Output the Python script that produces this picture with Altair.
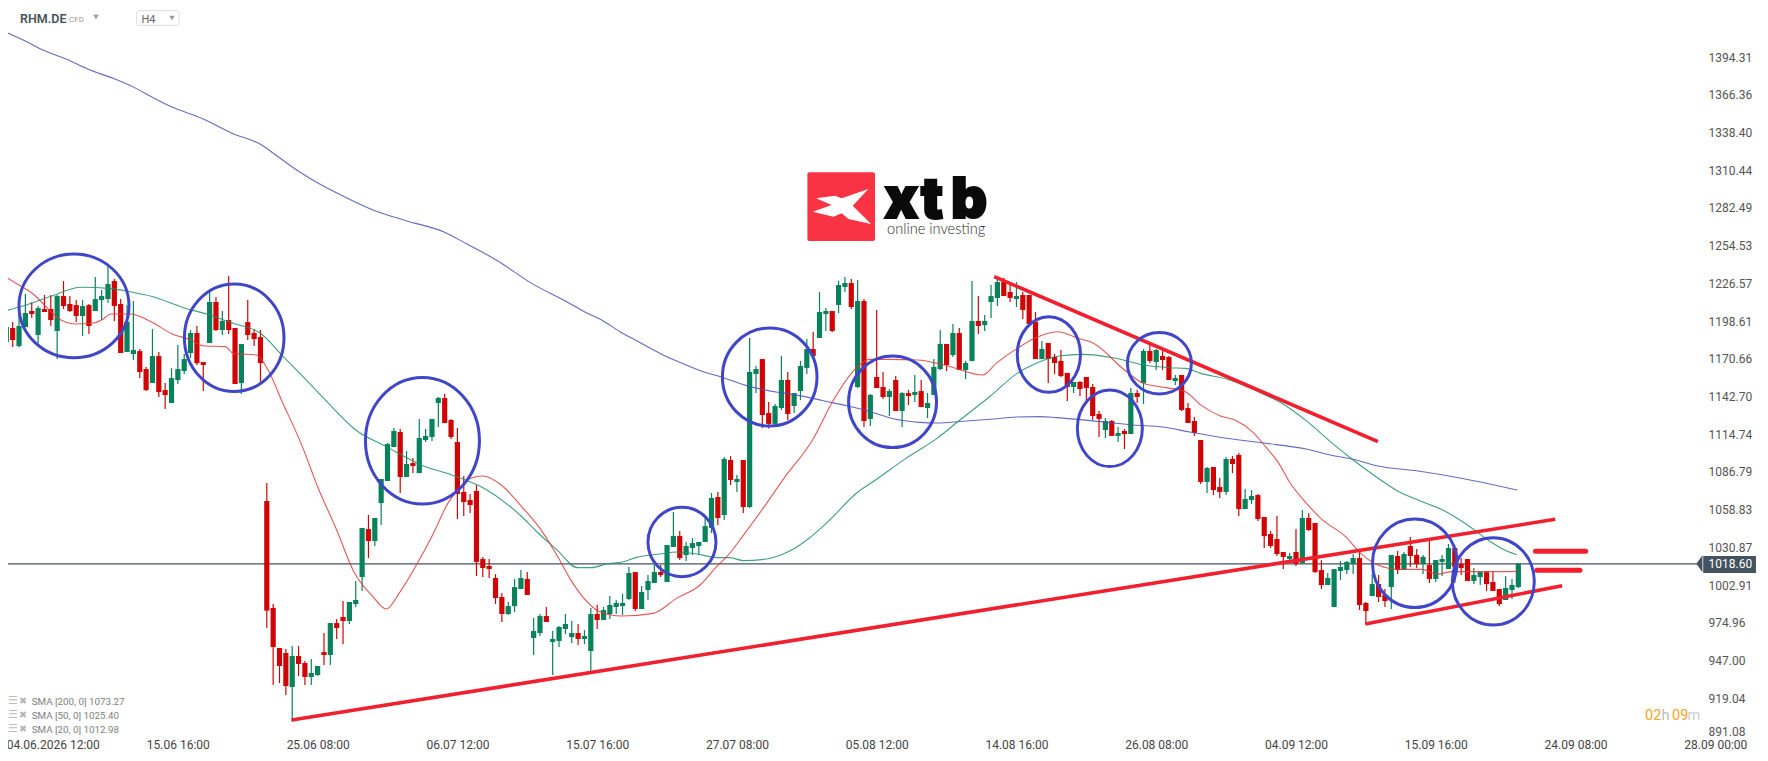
import altair as alt
import pandas as pd

# ---- candles ----
opens = [1183.0,1193.4,1180.0,1194.1,1206,1188.2,1207.5,1207.5,1191.2,1217.1,1211.2,1210.4,1202.3,1210.4,1206,1214.1,1214.9,1228.2,1211.2,1175.6,
1174.1,1176.3,1163,1152.6,1172.6,1147.4,1137.8,1154.8,1161.5,1174.9,1189.7,1168.2,1182.3,1212.7,1191.9,1199.3,1193.4,1152.6,1197.8,1189.7,
1186.7,1065.2,985.9,956.2,952.5,927.3,950.3,945.1,934.7,936.2,953.2,951,974.7,979.2,976.2,988.8,1008.8,1044.4,1035.5,1063.7,
1080,1105.2,1116.3,1083,1093.3,1085.9,1110.4,1112.6,1137.8,1141.5,1125.2,1108.9,1071.9,1065.9,1072.6,1022.2,1017,1008.1,994,981.4,
987.3,999.9,1007.4,963.6,967.3,979.9,960.7,961.4,970.3,964.3,967.3,962.9,954,981.4,977,981.4,986.6,987.3,992.5,1012.5,
985.1,999.2,1004.4,1012.5,1005.1,1031.1,1039.2,1025.1,1030.3,1031.8,1034.8,1045.2,1068.1,1054.8,1095.6,1079.3,1095.6,1060.7,1159.3,1170.4,
1130.4,1122.3,1134.1,1154.9,1135.6,1146.7,1163.8,1177.9,1186,1203.8,1206,1210.5,1223.8,1226.8,1149.7,1213.4,1126,1157.1,1149.7,1142.3,
1154.9,1131.9,1145.2,1143.8,1146.7,1134.1,1143.8,1163,1181.6,1173.4,1189.7,1162.3,1169,1198.6,1195.6,1212.7,1215.7,1227.5,1220.1,1214.9,
1217.9,1217.9,1198.1,1170.4,1182.3,1171.9,1169,1160.1,1149.7,1153.4,1157.1,1149.7,1129.7,1117.8,1124.5,1113.4,1117.1,1114.8,1145.2,1152.6,
1176.4,1168.2,1172.7,1171.9,1154.1,1158.6,1134.1,1124.5,1110.4,1079.3,1090.4,1075.6,1071.9,1096.3,1099.3,1059.2,1065.9,1069.6,1053.3,1040.7,
1037,1027.4,1022.2,1027.4,1019,1052.6,1048.9,1014,1002.9,986.6,1013.3,1014,1018.5,1022.9,989.6,994.7,1003.6,995.5,1001.4,1024.4,
1014,1031.8,1025.2,1018.5,1017.7,1007.4,1020,1014.8,1030.3,1018.5,1022.2,1005.9,1008.8,1012.5,1005.1,999.9,991.8,999.2,1001.4]
highs = [1194.1,1197.8,1203.8,1218.6,1212.7,1209.7,1217.9,1217.9,1217.9,1228.2,1217.1,1214.1,1214.1,1211.2,1231.2,1221.6,1240.1,1229.7,1214.9,1210.4,
1213.4,1177.8,1164.5,1192.6,1175.6,1152.6,1163.7,1180.8,1174.1,1191.9,1194.9,1168.2,1220.1,1216.4,1206,1232,1193.4,1181.5,1214.1,1192.6,
1191.9,1078.5,988.8,956.2,955.5,957.7,957.7,946.6,948.1,942.9,967.3,974.7,977.7,991.1,990.3,1005.9,1045.2,1054.8,1052.6,1081.5,
1108.2,1119.3,1118.5,1102.2,1097.1,1126,1118.5,1126,1142.3,1144.5,1126,1119.3,1083.7,1070.4,1077,1023.7,1022.2,1011,997,990.3,
1007.4,1014,1012.5,978.4,981.4,986.6,968.8,972.5,981.4,976.2,974,969.5,985.9,988.1,986.6,994.8,991.8,996.3,1016.3,1012.5,
1002.2,1010.3,1017.7,1017.7,1032.6,1057,1042.9,1034.8,1037.7,1034.8,1052.6,1071.1,1071.8,1097.8,1098.5,1084.4,1095.6,1186,1165.3,1170.4,
1138.6,1137.1,1172.7,1160.8,1145.2,1169,1185.3,1190.5,1220.1,1208.2,1206,1228.3,1231.2,1229.7,1229,1214.9,1144.5,1206.8,1160.8,1148.2,
1157.8,1146,1147.5,1158.6,1154.9,1145.2,1170.4,1191.9,1181.6,1196.4,1193.4,1169,1228.3,1217.1,1203,1225.3,1230.5,1230.5,1226,1227.5,
1220.1,1217.9,1205.3,1183.8,1182.3,1174.2,1177.1,1160.1,1153.4,1154.1,1157.1,1151.9,1131.9,1126.7,1125.2,1120,1118.5,1148.9,1147.5,1177.9,
1180.8,1177.9,1176.4,1172.7,1158.6,1158.6,1137.8,1127.4,1110.4,1090.4,1090.4,1082.2,1097.8,1098.5,1100.8,1074.1,1073.3,1070.4,1053.3,1042.9,
1054,1027.4,1026.6,1044.4,1058.5,1056.3,1048.9,1021.4,1011.8,1014.7,1020.7,1020.7,1025.9,1029.6,990.3,1011,1010.3,999.9,1025.2,1028.1,
1027.4,1038.5,1029.6,1025.2,1036.3,1021.4,1025.2,1033.3,1030.3,1022.9,1022.2,1015.5,1013.3,1013.3,1013.3,999.9,1009.6,1007.4,1019.2]
lows = [1176.6,1179.3,1179.1,1194.1,1200.8,1182,1205.3,1194.9,1170.4,1207.5,1205.3,1197.8,1187.5,1188.9,1206,1199.3,1211.9,1198.6,1174.9,1175.6,
1169.7,1156.3,1146.7,1152.6,1142.2,1133.3,1137.8,1151.9,1159.3,1171.2,1166,1146.7,1182.3,1191.2,1188.2,1188.9,1151.9,1144.5,1184.5,1180,
1153.6,971,928.8,930.2,921.4,901.6,935.4,928.8,928.8,935.4,943.6,943.6,962.9,959.2,974,986.6,998.5,1022.9,1031.8,1047.4,
1080,1105.2,1071.1,1083,1085.9,1085.9,1108.9,1109.7,1120,1123,1111.1,1051.8,1054.1,1056.3,1009.6,1008.8,1008.1,988.8,975.5,980.7,
982.9,999.9,995.5,951,965.1,975.5,936.2,957,966.6,959.9,958.4,959.2,939.2,970.3,977,977.7,981.4,980.7,991.8,983.6,
985.1,991.8,1004.4,1008.8,1005.1,1031.1,1021.4,1020.7,1025.1,1025.1,1034.8,1041.5,1047.4,1051.1,1077,1071.8,1056.3,1060,1145.2,1119.3,
1119,1122.3,1132.6,1125.2,1130.4,1140,1159.3,1172.7,1186,1191.2,1190.5,1204.5,1220.1,1207.5,1148.9,1120,1120.8,1148.9,1140.8,1128.2,
1131.9,1120,1136.3,1138.6,1134.8,1126.7,1143.8,1162.3,1161.5,1171.9,1162.3,1155.6,1169,1189,1191.2,1200.8,1209.7,1217.1,1212.7,1209,
1200.1,1196.4,1170.4,1170.4,1152.6,1159.3,1157.1,1139.3,1145.2,1143,1140,1125.2,1112.6,1111.9,1113.4,1108.9,1103.7,1114.8,1137.8,1137.1,
1167.5,1162.3,1162.3,1154.9,1151.2,1131.9,1123,1113.4,1077.8,1071.1,1069.6,1067.4,1069.6,1085.9,1054,1059.2,1062.9,1050.4,1030.3,1030.3,
1024.4,1014.8,1021.4,1017,1019,1042.9,1011.8,999.9,1002.9,986.6,1006.6,1011,1011,984.4,974,994.7,990.3,986.6,985.1,1011,
1014,1016.3,1015.5,1011,1004.4,1005.1,1009.6,1014.8,1004.4,1010.3,1005.9,1003.6,1002.9,998.5,998.5,987.3,991.8,992.5,1000.7]
closes = [1194.1,1184.5,1194.9,1204.5,1203.8,1208.2,1205.3,1199.3,1217.1,1209.7,1206,1202.3,1209.7,1194.9,1214.9,1217.1,1226,1209.7,1174.9,1198.1,
1177.1,1160.8,1147.4,1172.6,1145.9,1143.7,1156.3,1163,1170.4,1189.7,1167.4,1166,1212.7,1191.9,1198.6,1191.9,1151.9,1181.5,1188.2,1185.2,
1167.4,983.9,956.9,942.9,928,950.3,944.4,934.7,937.7,942.9,951,974.7,971,976.2,990.3,991.8,1045.2,1035.5,1052.6,1081.5,
1107.4,1117.1,1083,1092.6,1091.1,1111.9,1113.4,1126,1141.5,1123,1112.6,1070.4,1064.4,1062.2,1020,1015.5,1014.8,993.3,981.4,987.3,
1001.4,1008.1,995.5,968.8,979.9,975.5,962.9,971.8,974,967.3,962.9,965.1,981.4,977,984.4,988.1,989.6,989.6,1011.8,985.1,
997.7,1005.9,1012.5,1010.3,1032.6,1039.2,1022.9,1031.8,1034,1034.8,1046.6,1067.4,1052.6,1096.3,1080.7,1081.5,1060.7,1160.8,1163,1128.9,
1122.3,1135.6,1154.9,1129.7,1145.2,1165.3,1177.9,1172.7,1205.3,1206,1191.2,1225.3,1226.8,1209,1213.4,1124.5,1143.8,1148.9,1142.3,1146.7,
1131.9,1145.2,1143,1146,1134.8,1137.8,1164.5,1181.6,1166,1189.7,1162.3,1167.5,1198.6,1194.9,1198.6,1217.1,1227.5,1217.1,1215.7,1217.1,
1206.8,1196.4,1170.4,1177.9,1170.4,1167.5,1157.8,1149.7,1153.4,1148.2,1148.9,1128.2,1126,1124.5,1113.4,1115.6,1114.8,1145.2,1142.3,1176.4,
1169,1177.1,1169.7,1154.9,1156.4,1132.6,1123,1115.6,1079.3,1089.6,1073.3,1071.9,1096.3,1092.6,1059.2,1066.7,1068.9,1051.8,1039.2,1031.8,
1025.9,1023.7,1024.4,1018.5,1052.6,1043.7,1012.5,1002.9,1008.1,1014.7,1016.3,1020,1022.9,988.1,983.6,1003.6,994,991,1025.2,1014,
1025.9,1024.4,1018.5,1023.7,1007.4,1021.4,1022.2,1030.3,1016.3,1015.5,1005.9,1010.3,1012.5,1003.6,998.5,988.8,1000.7,1002.9,1018.6]

# ---- moving averages: bar position, price ----
sma200_i = [1,4.2,6.75,10.5,13.9,17.8,21.1,24.1,27.1,31.9,36.7,41,43.4,47,50.6,54.2,59,63.9,69.9,73.5,78.3,83.7,89.2,92.2,94.5,97.6,100.2,103.9,107,110.7,113.9,117.5,122.8,125.9,129.6,133.3,137,140.6,144.8,147.4,152.2,156.4,160,163.7,166.3,170,174.2,178.4,183.1,187.3,192,198.9,205.8,209.4,213,216.9,223.2,232.2,238.8]
sma200_p = [1412.6,1405.7,1399.5,1392.6,1385.2,1378.5,1371.8,1364.2,1357.2,1348.6,1337.5,1329.6,1321.7,1309.6,1299.4,1290.8,1280.4,1273,1264.6,1255.7,1243.3,1226.5,1212.9,1205,1199.9,1190.7,1184,1174.6,1168,1161,1156.6,1150.7,1145.5,1143.3,1139.5,1135.8,1131.4,1126.2,1123.5,1123,1124.5,1126,1127.4,1127.7,1127,1125.5,1123.5,1121.5,1120,1116.3,1112.4,1108.2,1103.5,1099.3,1096.1,1091.1,1087.4,1080,1073.27]
sma50_i = [1,3.6,7.8,12.8,17.5,20.5,24.1,28.9,32.5,36.7,41,44.6,48.2,51.2,56,60.8,66.3,71.1,75.9,81.9,84.5,87.6,90.9,93.1,95.5,98.1,100.2,103.9,106.5,109.7,112.8,114.9,117,120.7,122.8,124.6,127,130.6,134.8,137.8,142.6,147.5,151.1,155.9,160.1,162.5,166.7,170.4,175.2,180,184.2,186.6,189,193.2,198.6,202.2,205.8,209.4,213,216.6,220.2,223.2,227.4,231,234.6,237,238.8]
sma50_p = [1206.3,1209.7,1216.6,1223.6,1222.6,1220.3,1216.6,1208.5,1203.8,1196.9,1189.5,1172.2,1154.9,1140.1,1117.8,1105.5,1091.9,1084.5,1075.3,1054.6,1042.4,1029.3,1015.8,1015.8,1018.5,1020.2,1023.4,1025.9,1027.4,1025.9,1023.2,1023.2,1021,1022.2,1024.9,1028.8,1036.3,1051.1,1070.9,1080.7,1096.8,1111.6,1125.2,1143,1159.8,1166,1172.7,1173.9,1171.4,1166,1164,1163.5,1159.8,1155.4,1145,1136.4,1124,1109.2,1095.6,1083.2,1072.1,1065.9,1057.8,1047.4,1035,1028.4,1025.4]
sma20_i = [1,3,5.4,7.5,9.6,12,14.5,16,17.5,20.5,23.8,27.1,30.1,31.9,35.5,36.7,40.4,42.2,44.3,47.6,50,53,55.7,58.7,60.8,63,65.7,68.1,70.5,72.3,74.1,76,78.9,82.2,85,88.1,89.7,91.8,94.4,97.85,102.8,106.5,110.2,112.8,114.4,117.2,120.3,123.4,127.9,131.2,134.5,136.9,140.2,144.4,148.7,154.7,156.8,160.1,162.8,166.4,169.8,172.2,177,180,183.6,186.6,189,192,194.4,197.1,199.2,201.3,203.1,205.2,207.9,211.8,214.2,216.9,220.2,223.8,226.2,228.6,231.6,234,236.4,238.8]
sma20_p = [1231,1225.3,1217.9,1208,1199.4,1196.4,1196.9,1199.4,1203.8,1203.8,1198.1,1189,1184.5,1180.3,1179.6,1174.6,1173.4,1162.3,1140.1,1105.5,1075.8,1043.7,1012.8,994.3,985.1,998,1019,1040,1063.4,1074.5,1082,1083.7,1077,1060.5,1044.9,1021.4,1007.8,993.8,983.1,979.9,981.9,993,1002.9,1016.5,1023.9,1041,1061,1082,1110.4,1140,1162.3,1170.2,1170.2,1169.7,1166,1158.6,1167.2,1178.3,1185.7,1190.7,1185.7,1182,1162.3,1152.4,1149.2,1146.2,1136.4,1128.4,1125.2,1116.6,1105.5,1093.1,1078.3,1065.9,1052.3,1038.7,1026.4,1017.7,1014.5,1014.5,1011,1012.8,1012.8,1012.8,1012.8,1012.98]

# ---- drawn annotations (bar position / price) ----
trend_ids = ["a","a","b","b","c","c"]
trend_i = [45.9,244.8,156.5,216.9,214.9,245.9]
trend_p = [902.8,1051.6,1231.5,1109.2,974,1002.4]
level_ids = ["u","u","d","d"]
level_i = [241.7,249.6,241.9,248.7]
level_p = [1027.9,1027.9,1013.8,1013.8]
circle_i = [11.65,36.87,66.5,107.35,121.16,140.5,165.1,174.7,182.5,222.7,235.06]
circle_p = [1209.8,1186.2,1109.8,1034.8,1157.1,1138.7,1173.8,1119.1,1167.3,1019,1005.6]
circle_rx = [55,49.8,57,34,47.3,44,31.6,32.5,32,42.3,41]
circle_ry = [51.8,53.8,63.2,34.7,49,45.8,37.8,38.3,30.8,44.3,43.7]

last_price = 1018.60
price_ticks = [1394.31,1366.36,1338.40,1310.44,1282.49,1254.53,1226.57,1198.61,1170.66,1142.70,1114.74,1086.79,1058.83,1030.87,1002.91,974.96,947.00,919.04,894.3]
time_ticks = [8.3,28,50,72,94,116,138,160,182,204,226,248,270]
time_labels = ["04.06.2026 12:00","15.06 16:00","25.06 08:00","06.07 12:00","15.07 16:00","27.07 08:00","05.08 12:00","14.08 16:00","26.08 08:00","04.09 12:00","15.09 16:00","24.09 08:00","28.09 00:00"]
legend_labels = ["SMA [200, 0] 1073.27","SMA [50, 0] 1025.40","SMA [20, 0] 1012.98"]

GREEN, RED, FONT = "#07825A", "#CF0505", "Roboto"
W, H = 1752, 725
x_dom = [1.263, 1 + (1760 - 6.33) / 6.353]
y_dom = [893.2, 1430.64]

xs = alt.Scale(domain=x_dom, nice=False, zero=False, padding=0)
ys = alt.Scale(domain=y_dom, nice=False, zero=False, padding=0)

x_axis = alt.Axis(orient="bottom", values=time_ticks, domain=False, ticks=False, grid=False, title=None,
                  labelExpr="%s[indexof(%s, datum.value)]" % (time_labels, time_ticks),
                  labelFont=FONT, labelFontSize=12, labelColor="#444444", labelPadding=6,
                  labelOverlap=False, labelFlush=False, labelBound=False)
y_axis = alt.Axis(orient="right", values=price_ticks, domain=False, ticks=False, grid=False, title=None,
                  offset=-52, labelAlign="left", labelBaseline="middle", labelPadding=0,
                  labelExpr="datum.value < 900 ? '891.08' : format(datum.value, '.2f')",
                  labelFont=FONT, labelFontSize=12, labelColor="#555555", labelOverlap=False, labelBound=False, labelFlush=False)

X = lambda f: alt.X(f, type="quantitative", scale=xs, axis=x_axis)
Y = lambda f: alt.Y(f, type="quantitative", scale=ys, axis=y_axis)

df = pd.DataFrame({"i": range(1, len(opens) + 1), "o": opens, "h": highs, "l": lows, "c": closes})
df["dir"] = ["up" if c >= o else "down" for o, c in zip(opens, closes)]
col = alt.Color("dir:N", scale=alt.Scale(domain=["up", "down"], range=[GREEN, RED]), legend=None)

wicks = alt.Chart(df).mark_rule(strokeWidth=1.2).encode(x=X("i"), y=Y("l"), y2="h:Q", color=col)
bodies = alt.Chart(df).mark_bar(size=5.2, orient="vertical").encode(x=X("i"), y=Y("o"), y2="c:Q", color=col)

def sma(i, p, c, w=1.1):
    d = pd.DataFrame({"i": i, "p": p})
    return alt.Chart(d).mark_line(stroke=c, strokeWidth=w, opacity=0.85, interpolate="monotone").encode(x=X("i"), y=Y("p"))

price_line = alt.Chart(pd.DataFrame({"a": [x_dom[0]], "b": [267.6], "p": [last_price]})).mark_rule(
    stroke="#44535F", strokeWidth=1.2).encode(x=X("a"), x2="b:Q", y=Y("p"))

trend = alt.Chart(pd.DataFrame({"g": trend_ids, "i": trend_i, "p": trend_p})).mark_line(
    stroke="#F2202F", strokeWidth=3.6).encode(x=X("i"), y=Y("p"), detail="g:N")
levels = alt.Chart(pd.DataFrame({"g": level_ids, "i": level_i, "p": level_p})).mark_line(
    stroke="#F2202F", strokeWidth=5, strokeCap="round").encode(x=X("i"), y=Y("p"), detail="g:N")

paths, sizes = [], []
for a, b in zip(circle_rx, circle_ry):
    r = max(a, b)
    u, v = round(a / r, 4), round(b / r, 4)
    paths.append(f"M {-u} 0 A {u} {v} 0 1 1 {u} 0 A {u} {v} 0 1 1 {-u} 0 Z")
    sizes.append((2 * r) ** 2)
circles = alt.Chart(pd.DataFrame({"i": circle_i, "p": circle_p, "s": paths, "z": sizes})).mark_point(
    filled=False, stroke="#4046C8", strokeWidth=3, opacity=1).encode(
    x=X("i"), y=Y("p"), shape=alt.Shape("s:N", scale=None), size=alt.Size("z:Q", scale=None))

tag_df = pd.DataFrame({"a": [268.1], "b": [276.4], "t": [1024.4], "u": [1011.8], "m": [267.5], "p": [last_price], "n": [268.95], "l": ["%.2f" % last_price]})
tag = alt.Chart(tag_df).mark_rect(fill="#44535F").encode(x=X("a"), x2="b:Q", y=Y("t"), y2="u:Q")
tag_tip = alt.Chart(tag_df).mark_point(shape="M 0.36 -1 L -0.36 0 L 0.36 1 Z", size=289, filled=True, fill="#44535F", opacity=1).encode(x=X("m"), y=Y("p"))
tag_txt = alt.Chart(tag_df).mark_text(font=FONT, fontSize=12, color="white", align="left", baseline="middle").encode(x=X("n"), y=Y("p"), text="l:N")

def label(t, px, py, size=11, color="#555555", weight=400, font=FONT, align="left", baseline="middle", stroke=0):
    kw = {"stroke": color, "strokeWidth": stroke} if stroke else {}
    return alt.Chart(pd.DataFrame({"t": [t]})).mark_text(font=font, fontSize=size, color=color, fontWeight=weight, align=align, baseline=baseline, **kw).encode(
        x=alt.value(px - 8), y=alt.value(py - 8), text="t:N")

def glyph(path, px, py, size, color):
    return alt.Chart(pd.DataFrame({"t": [0]})).mark_point(shape=path, size=size, filled=True, fill=color, opacity=1).encode(
        x=alt.value(px - 8), y=alt.value(py - 8))

logo_box = alt.Chart(pd.DataFrame({"t": [0]})).mark_rect(fill="#F93343", cornerRadius=2).encode(
    x=alt.value(799.4), x2=alt.value(867), y=alt.value(164.3), y2=alt.value(233))
logo_x = glyph("M -0.755 -0.245 L -0.196 -0.324 L 0 -0.245 L 0.784 -0.52 L 0.324 -0.03 L 0.863 0.51 L 0.196 0.363 L 0 0.196 L -0.245 0.294 L -0.853 0.147 L -0.294 -0.05 Z", 841.7, 206.7, 4624, "white")
h4_box = alt.Chart(pd.DataFrame({"t": [0]})).mark_rect(fill="white", stroke="#DDDDDD", cornerRadius=2).encode(
    x=alt.value(128.6), x2=alt.value(171), y=alt.value(2.7), y2=alt.value(17.3))

chrome = [
    logo_box, logo_x,
    label("x", 901.2, 217.7, 56, "#0A0A0A", 900, "Inter", "center", "alphabetic", 2),
    label("t", 932, 217.7, 56, "#0A0A0A", 900, "Inter", "center", "alphabetic", 2),
    label("b", 969, 217.7, 56, "#0A0A0A", 900, "Inter", "center", "alphabetic", 2),
    label("online investing", 887, 230, 14.6, "#2A2A2A", 300, "Lato"),
    h4_box,
    label("RHM.DE", 20, 19, 12.5, "#46525C", 600),
    label("CFD", 69, 20, 8, "#999999"),
    glyph("triangle-down", 96, 17, 30, "#999999"),
    label("H4", 141.5, 19.5, 11, "#666666"),
    glyph("triangle-down", 172, 18, 30, "#999999"),
    label("02", 1645, 716, 14.5, "#F5A623"),
    label("h", 1661.5, 716, 14.5, "#BBBBBB"),
    label("09", 1672, 716, 14.5, "#F5A623"),
    label("m", 1687.5, 716, 14.5, "#CCCCCC"),
]
for t, py in zip(legend_labels, [701.7, 715.7, 729.7]):
    chrome += [label(t, 31.7, py, 9.8, "#808080"),
               label("\u2630", 8, py - 1, 11, "#BDBDBD", font="DejaVu Sans"),
               label("\u2716", 19, py - 1, 9.5, "#B5B5B5", font="DejaVu Sans")]

chart = alt.layer(
    price_line, wicks, bodies,
    sma(sma200_i, sma200_p, "#4A52B5"), sma(sma50_i, sma50_p, "#1E8F68"), sma(sma20_i, sma20_p, "#E03A3A"),
    trend, levels, circles, tag, tag_tip, tag_txt, *chrome
).properties(width=W, height=H, padding={"left": 0, "top": 0, "right": 0, "bottom": 20},
             autosize=alt.AutoSizeParams(type="none"), background="white"
).configure_view(stroke=None)

chart.save("out.html", embed_options={"renderer": "svg", "actions": False})
